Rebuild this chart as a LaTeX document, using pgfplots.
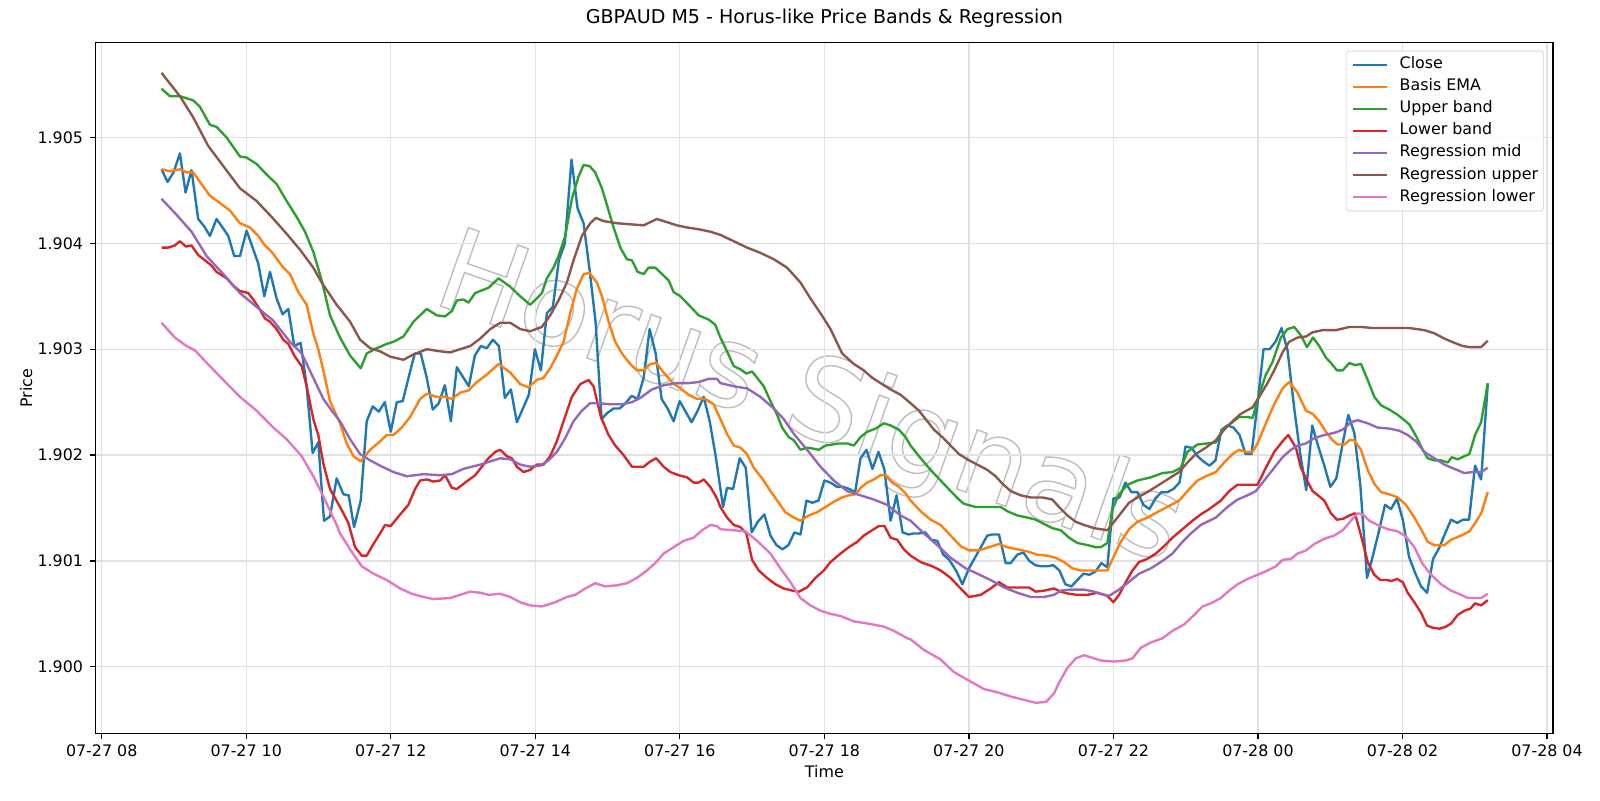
\documentclass[border=0pt]{standalone}
\usepackage{fontspec}
\setmainfont{DejaVu Sans}
\usepackage{pgfplots}
\pgfplotsset{compat=1.18}
\definecolor{c0}{HTML}{1F77B4}
\definecolor{c1}{HTML}{FF7F0E}
\definecolor{c2}{HTML}{2CA02C}
\definecolor{c3}{HTML}{D62728}
\definecolor{c4}{HTML}{9467BD}
\definecolor{c5}{HTML}{8C564B}
\definecolor{c6}{HTML}{E377C2}
\definecolor{gridc}{RGB}{225,225,225}
\definecolor{legc}{RGB}{204,204,204}
\definecolor{wmc}{RGB}{190,190,190}
\begin{document}
\begin{tikzpicture}
\path[use as bounding box] (-60.3pt,-42pt) rectangle (947.7pt,462pt);
\node[rotate=-19.5, text=wmc, font=\fontsize{72}{80}\selectfont] at (449.4pt,208pt) {\special{pdf:literal direct 1 Tr 0.9 w}Horus Signals\special{pdf:literal direct 0 Tr}};
\begin{axis}[
  at={(0,0)}, anchor=south west, scale only axis,
  width=918.1pt, height=435.1pt,
  xmin=7.917, xmax=28.083, ymin=1.899372, ymax=1.905895,
  axis line style={line width=0.8pt},
  tick style={line width=0.8pt, black},
  major tick length=3.5pt, tick align=outside, tick pos=left,
  grid=major, major grid style={line width=0.8pt, draw=gridc},
  xtick={8,10,12,14,16,18,20,22,24,26,28},
  xticklabels={07-27 08,07-27 10,07-27 12,07-27 14,07-27 16,07-27 18,07-27 20,07-27 22,07-28 00,07-28 02,07-28 04},
  ytick={1.900,1.901,1.902,1.903,1.904,1.905},
  scaled y ticks=false,
  /pgf/number format/assume math mode=true,
  yticklabel style={/pgf/number format/fixed, /pgf/number format/fixed zerofill, /pgf/number format/precision=3, xshift=-1pt},
  tick label style={font=\fontsize{10}{12}\selectfont},
  title={GBPAUD M5 - Horus-like Price Bands \& Regression},
  title style={at={(axis description cs:0.5,1.01471)}, anchor=base, font=\fontsize{12}{14}\selectfont},
  xlabel={Time},
  xlabel style={at={(axis description cs:0.5,-0.06366)}, anchor=base, font=\fontsize{10}{12}\selectfont},
  ylabel={Price},
  ylabel style={at={(axis description cs:-0.04357,0.5)}, anchor=base, font=\fontsize{10}{12}\selectfont},
  every axis plot/.append style={line width=1.5pt, line join=round},
  legend cell align=left,
  legend image code/.code={\draw[#1, line width=1.5pt] (0pt,0pt) -- (21.4pt,0pt);},
  legend style={at={(axis description cs:0.99379,0.98851)}, anchor=north east,
    draw=legc, rounded corners=2pt, fill=white, fill opacity=0.8, text opacity=1,
    font=\fontsize{10}{12}\selectfont, inner xsep=3.5pt, inner ysep=4.2pt, row sep=4.9pt,
    nodes={inner sep=0pt, text height=7pt, text depth=2pt},
    /tikz/every odd column/.append style={column sep=7.4pt}},
]
\addplot[c0] coordinates {(8.828,1.90470)(8.911,1.90458)(8.994,1.90467)(9.082,1.90485)(9.160,1.90448)(9.243,1.90469)(9.335,1.90423)(9.419,1.90416)(9.497,1.90407)(9.589,1.90423)(9.672,1.90415)(9.751,1.90407)(9.834,1.90388)(9.913,1.90388)(10.005,1.90412)(10.083,1.90397)(10.166,1.90381)(10.250,1.90350)(10.328,1.90373)(10.420,1.90348)(10.503,1.90333)(10.582,1.90338)(10.665,1.90303)(10.753,1.90306)(10.836,1.90265)(10.919,1.90202)(10.997,1.90212)(11.076,1.90138)(11.159,1.90142)(11.251,1.90178)(11.344,1.90163)(11.418,1.90162)(11.492,1.90132)(11.584,1.90157)(11.667,1.90232)(11.750,1.90246)(11.834,1.90241)(11.917,1.90250)(12.000,1.90222)(12.083,1.90250)(12.166,1.90251)(12.249,1.90274)(12.332,1.90296)(12.415,1.90296)(12.498,1.90273)(12.581,1.90243)(12.665,1.90249)(12.748,1.90266)(12.831,1.90232)(12.914,1.90283)(12.997,1.90274)(13.080,1.90265)(13.163,1.90294)(13.246,1.90303)(13.329,1.90301)(13.413,1.90309)(13.496,1.90303)(13.579,1.90254)(13.662,1.90262)(13.745,1.90231)(13.828,1.90244)(13.911,1.90257)(13.994,1.90300)(14.077,1.90280)(14.160,1.90334)(14.243,1.90340)(14.326,1.90384)(14.409,1.90400)(14.501,1.90479)(14.585,1.90433)(14.668,1.90419)(14.751,1.90375)(14.834,1.90326)(14.917,1.90234)(15.000,1.90240)(15.083,1.90244)(15.166,1.90244)(15.249,1.90249)(15.333,1.90256)(15.416,1.90253)(15.499,1.90273)(15.582,1.90319)(15.665,1.90296)(15.748,1.90253)(15.831,1.90244)(15.914,1.90232)(15.997,1.90251)(16.080,1.90241)(16.163,1.90231)(16.247,1.90242)(16.330,1.90255)(16.413,1.90232)(16.496,1.90199)(16.598,1.90151)(16.653,1.90169)(16.736,1.90168)(16.829,1.90197)(16.912,1.90188)(16.995,1.90127)(17.078,1.90137)(17.170,1.90144)(17.254,1.90124)(17.337,1.90115)(17.420,1.90111)(17.503,1.90115)(17.586,1.90127)(17.669,1.90125)(17.752,1.90157)(17.835,1.90155)(17.918,1.90157)(18.001,1.90176)(18.085,1.90174)(18.177,1.90170)(18.260,1.90170)(18.343,1.90168)(18.426,1.90165)(18.500,1.90197)(18.583,1.90205)(18.666,1.90187)(18.749,1.90203)(18.832,1.90186)(18.916,1.90138)(18.999,1.90162)(19.082,1.90127)(19.165,1.90125)(19.230,1.90126)(19.313,1.90126)(19.396,1.90127)(19.479,1.90120)(19.562,1.90119)(19.645,1.90106)(19.729,1.90101)(19.830,1.90090)(19.909,1.90078)(20.001,1.90093)(20.116,1.90107)(20.255,1.90124)(20.324,1.90125)(20.416,1.90125)(20.509,1.90098)(20.578,1.90098)(20.670,1.90106)(20.754,1.90108)(20.837,1.90100)(20.920,1.90096)(21.003,1.90095)(21.086,1.90095)(21.169,1.90096)(21.252,1.90091)(21.335,1.90078)(21.418,1.90076)(21.501,1.90082)(21.585,1.90088)(21.668,1.90087)(21.751,1.90090)(21.833,1.90098)(21.916,1.90094)(21.999,1.90159)(22.083,1.90160)(22.166,1.90174)(22.249,1.90165)(22.332,1.90165)(22.415,1.90153)(22.498,1.90149)(22.581,1.90159)(22.664,1.90165)(22.747,1.90165)(22.830,1.90168)(22.914,1.90174)(22.997,1.90208)(23.080,1.90207)(23.163,1.90199)(23.246,1.90194)(23.329,1.90190)(23.412,1.90195)(23.495,1.90224)(23.578,1.90228)(23.661,1.90226)(23.745,1.90219)(23.828,1.90201)(23.911,1.90201)(23.994,1.90249)(24.077,1.90300)(24.160,1.90300)(24.243,1.90307)(24.326,1.90320)(24.409,1.90299)(24.502,1.90244)(24.585,1.90201)(24.668,1.90167)(24.751,1.90228)(24.835,1.90208)(24.918,1.90190)(25.001,1.90170)(25.084,1.90178)(25.167,1.90209)(25.250,1.90238)(25.333,1.90221)(25.416,1.90172)(25.509,1.90084)(25.583,1.90103)(25.666,1.90126)(25.758,1.90153)(25.841,1.90149)(25.924,1.90159)(26.007,1.90138)(26.090,1.90104)(26.173,1.90089)(26.257,1.90076)(26.340,1.90070)(26.423,1.90102)(26.506,1.90112)(26.589,1.90126)(26.672,1.90139)(26.755,1.90136)(26.838,1.90139)(26.921,1.90139)(27.004,1.90190)(27.088,1.90177)(27.180,1.90267)};
\addlegendentry{Close}
\addplot[c1] coordinates {(8.828,1.90470)(8.943,1.90468)(9.082,1.90470)(9.174,1.90467)(9.266,1.90467)(9.359,1.90458)(9.497,1.90445)(9.636,1.90438)(9.774,1.90431)(9.913,1.90419)(10.051,1.90415)(10.166,1.90407)(10.259,1.90398)(10.351,1.90392)(10.513,1.90377)(10.605,1.90371)(10.720,1.90354)(10.836,1.90342)(10.928,1.90315)(10.997,1.90300)(11.067,1.90280)(11.159,1.90251)(11.298,1.90230)(11.390,1.90211)(11.483,1.90199)(11.584,1.90194)(11.714,1.90205)(11.852,1.90213)(11.944,1.90219)(12.037,1.90219)(12.152,1.90226)(12.268,1.90236)(12.406,1.90253)(12.498,1.90258)(12.637,1.90255)(12.752,1.90255)(12.845,1.90253)(12.960,1.90259)(13.075,1.90261)(13.191,1.90269)(13.329,1.90276)(13.491,1.90286)(13.653,1.90278)(13.791,1.90267)(13.906,1.90264)(14.021,1.90271)(14.114,1.90273)(14.206,1.90282)(14.298,1.90294)(14.391,1.90307)(14.483,1.90334)(14.575,1.90357)(14.668,1.90371)(14.751,1.90372)(14.852,1.90363)(14.922,1.90350)(15.014,1.90326)(15.106,1.90307)(15.199,1.90296)(15.314,1.90286)(15.406,1.90280)(15.499,1.90280)(15.591,1.90286)(15.674,1.90287)(15.776,1.90278)(15.891,1.90269)(16.007,1.90263)(16.122,1.90257)(16.237,1.90253)(16.353,1.90253)(16.468,1.90248)(16.561,1.90234)(16.653,1.90220)(16.746,1.90209)(16.838,1.90207)(16.930,1.90201)(17.023,1.90188)(17.138,1.90178)(17.254,1.90166)(17.369,1.90155)(17.461,1.90146)(17.577,1.90141)(17.669,1.90138)(17.784,1.90143)(17.900,1.90146)(18.015,1.90151)(18.131,1.90156)(18.246,1.90160)(18.338,1.90162)(18.431,1.90163)(18.500,1.90169)(18.592,1.90174)(18.685,1.90177)(18.777,1.90181)(18.846,1.90181)(18.939,1.90174)(19.031,1.90170)(19.123,1.90164)(19.193,1.90157)(19.332,1.90147)(19.470,1.90139)(19.609,1.90134)(19.747,1.90124)(19.886,1.90114)(20.001,1.90110)(20.139,1.90110)(20.278,1.90113)(20.416,1.90116)(20.532,1.90113)(20.670,1.90111)(20.809,1.90109)(20.947,1.90106)(21.086,1.90105)(21.201,1.90103)(21.317,1.90099)(21.432,1.90093)(21.548,1.90091)(21.686,1.90091)(21.801,1.90091)(21.916,1.90091)(22.009,1.90105)(22.101,1.90118)(22.216,1.90130)(22.332,1.90137)(22.470,1.90141)(22.632,1.90147)(22.770,1.90152)(22.909,1.90157)(23.024,1.90166)(23.163,1.90176)(23.278,1.90180)(23.417,1.90184)(23.532,1.90193)(23.648,1.90201)(23.740,1.90205)(23.832,1.90203)(23.925,1.90203)(23.994,1.90211)(24.109,1.90230)(24.225,1.90248)(24.340,1.90263)(24.432,1.90269)(24.548,1.90259)(24.664,1.90242)(24.756,1.90239)(24.848,1.90232)(24.941,1.90222)(25.033,1.90214)(25.102,1.90210)(25.195,1.90210)(25.264,1.90214)(25.333,1.90214)(25.426,1.90205)(25.518,1.90186)(25.610,1.90173)(25.703,1.90165)(25.818,1.90163)(25.933,1.90160)(26.049,1.90153)(26.164,1.90141)(26.257,1.90130)(26.349,1.90118)(26.441,1.90115)(26.580,1.90115)(26.672,1.90120)(26.811,1.90124)(26.926,1.90128)(27.018,1.90137)(27.088,1.90145)(27.180,1.90165)};
\addlegendentry{Basis EMA}
\addplot[c2] coordinates {(8.828,1.90546)(8.943,1.90539)(9.082,1.90539)(9.174,1.90537)(9.266,1.90535)(9.359,1.90529)(9.497,1.90512)(9.589,1.90510)(9.728,1.90500)(9.913,1.90482)(10.005,1.90481)(10.143,1.90475)(10.282,1.90465)(10.420,1.90456)(10.559,1.90440)(10.697,1.90425)(10.813,1.90411)(10.928,1.90392)(11.044,1.90365)(11.159,1.90332)(11.298,1.90311)(11.437,1.90294)(11.584,1.90282)(11.667,1.90296)(11.806,1.90301)(11.944,1.90305)(12.037,1.90307)(12.175,1.90312)(12.314,1.90326)(12.498,1.90338)(12.637,1.90332)(12.752,1.90331)(12.845,1.90336)(12.914,1.90346)(13.006,1.90347)(13.075,1.90344)(13.168,1.90353)(13.237,1.90355)(13.352,1.90358)(13.491,1.90367)(13.653,1.90359)(13.791,1.90350)(13.929,1.90342)(14.021,1.90348)(14.091,1.90353)(14.160,1.90367)(14.252,1.90377)(14.321,1.90388)(14.414,1.90407)(14.506,1.90442)(14.598,1.90463)(14.668,1.90474)(14.751,1.90473)(14.829,1.90467)(14.922,1.90452)(15.014,1.90431)(15.083,1.90415)(15.176,1.90396)(15.268,1.90385)(15.337,1.90384)(15.416,1.90373)(15.499,1.90371)(15.568,1.90377)(15.660,1.90377)(15.753,1.90371)(15.845,1.90365)(15.914,1.90354)(16.007,1.90350)(16.122,1.90342)(16.260,1.90332)(16.399,1.90328)(16.491,1.90323)(16.561,1.90311)(16.653,1.90298)(16.746,1.90284)(16.838,1.90281)(16.921,1.90277)(17.000,1.90279)(17.069,1.90273)(17.161,1.90265)(17.254,1.90251)(17.346,1.90238)(17.415,1.90226)(17.507,1.90217)(17.577,1.90214)(17.669,1.90205)(17.761,1.90207)(17.854,1.90206)(17.923,1.90205)(18.015,1.90209)(18.108,1.90210)(18.200,1.90211)(18.315,1.90211)(18.408,1.90209)(18.500,1.90217)(18.592,1.90222)(18.708,1.90225)(18.823,1.90230)(18.916,1.90228)(19.031,1.90224)(19.123,1.90217)(19.193,1.90209)(19.332,1.90197)(19.470,1.90186)(19.609,1.90176)(19.747,1.90166)(19.862,1.90158)(19.932,1.90154)(20.093,1.90151)(20.255,1.90151)(20.440,1.90151)(20.532,1.90147)(20.670,1.90143)(20.809,1.90141)(20.924,1.90139)(21.040,1.90135)(21.155,1.90131)(21.271,1.90129)(21.386,1.90122)(21.501,1.90117)(21.640,1.90115)(21.755,1.90113)(21.824,1.90113)(21.916,1.90117)(21.986,1.90149)(22.078,1.90163)(22.193,1.90172)(22.332,1.90176)(22.517,1.90179)(22.678,1.90183)(22.817,1.90184)(22.932,1.90188)(23.024,1.90203)(23.163,1.90210)(23.301,1.90211)(23.417,1.90212)(23.509,1.90224)(23.625,1.90230)(23.740,1.90236)(23.855,1.90236)(23.925,1.90235)(24.017,1.90257)(24.109,1.90276)(24.202,1.90288)(24.317,1.90311)(24.409,1.90319)(24.502,1.90321)(24.595,1.90313)(24.678,1.90302)(24.761,1.90311)(24.848,1.90303)(24.941,1.90292)(25.010,1.90287)(25.093,1.90280)(25.172,1.90280)(25.264,1.90287)(25.342,1.90285)(25.426,1.90286)(25.518,1.90271)(25.610,1.90255)(25.703,1.90247)(25.818,1.90243)(25.933,1.90238)(26.026,1.90233)(26.095,1.90229)(26.187,1.90218)(26.280,1.90205)(26.349,1.90197)(26.441,1.90195)(26.534,1.90195)(26.626,1.90193)(26.681,1.90198)(26.764,1.90196)(26.857,1.90199)(26.926,1.90201)(27.004,1.90219)(27.088,1.90231)(27.180,1.90268)};
\addlegendentry{Upper band}
\addplot[c3] coordinates {(8.828,1.90396)(8.920,1.90396)(9.012,1.90398)(9.082,1.90402)(9.165,1.90397)(9.243,1.90398)(9.335,1.90389)(9.428,1.90384)(9.520,1.90379)(9.589,1.90373)(9.728,1.90367)(9.820,1.90360)(9.913,1.90355)(10.028,1.90353)(10.097,1.90347)(10.166,1.90340)(10.259,1.90329)(10.328,1.90326)(10.420,1.90319)(10.513,1.90309)(10.582,1.90305)(10.674,1.90293)(10.767,1.90284)(10.836,1.90265)(10.928,1.90234)(10.997,1.90219)(11.067,1.90192)(11.159,1.90168)(11.298,1.90151)(11.413,1.90136)(11.506,1.90113)(11.598,1.90105)(11.667,1.90105)(11.760,1.90116)(11.852,1.90126)(11.921,1.90134)(12.000,1.90133)(12.106,1.90142)(12.244,1.90153)(12.337,1.90168)(12.406,1.90176)(12.498,1.90177)(12.591,1.90175)(12.683,1.90176)(12.752,1.90181)(12.845,1.90169)(12.914,1.90168)(13.029,1.90174)(13.168,1.90181)(13.260,1.90189)(13.352,1.90197)(13.445,1.90203)(13.514,1.90205)(13.606,1.90199)(13.676,1.90197)(13.745,1.90189)(13.837,1.90184)(13.929,1.90186)(14.021,1.90191)(14.114,1.90191)(14.206,1.90199)(14.298,1.90213)(14.391,1.90232)(14.506,1.90255)(14.622,1.90267)(14.737,1.90271)(14.806,1.90265)(14.908,1.90236)(15.014,1.90219)(15.106,1.90209)(15.222,1.90200)(15.337,1.90189)(15.499,1.90189)(15.591,1.90194)(15.674,1.90197)(15.776,1.90189)(15.868,1.90184)(15.983,1.90181)(16.099,1.90179)(16.191,1.90174)(16.260,1.90174)(16.330,1.90177)(16.422,1.90170)(16.514,1.90159)(16.561,1.90151)(16.653,1.90141)(16.746,1.90134)(16.838,1.90132)(16.921,1.90126)(17.000,1.90101)(17.092,1.90091)(17.207,1.90084)(17.323,1.90078)(17.438,1.90074)(17.554,1.90072)(17.646,1.90071)(17.761,1.90075)(17.877,1.90084)(17.992,1.90091)(18.085,1.90099)(18.223,1.90107)(18.338,1.90113)(18.454,1.90118)(18.546,1.90124)(18.638,1.90128)(18.754,1.90133)(18.832,1.90133)(18.916,1.90122)(19.008,1.90120)(19.100,1.90111)(19.193,1.90105)(19.332,1.90099)(19.493,1.90095)(19.609,1.90091)(19.747,1.90084)(19.886,1.90074)(20.001,1.90066)(20.163,1.90068)(20.301,1.90074)(20.416,1.90080)(20.532,1.90075)(20.670,1.90075)(20.832,1.90075)(20.924,1.90071)(21.040,1.90072)(21.178,1.90074)(21.271,1.90071)(21.386,1.90069)(21.501,1.90068)(21.640,1.90068)(21.778,1.90070)(21.916,1.90067)(21.999,1.90061)(22.078,1.90068)(22.170,1.90080)(22.263,1.90091)(22.355,1.90099)(22.470,1.90102)(22.586,1.90107)(22.701,1.90114)(22.817,1.90122)(22.955,1.90130)(23.094,1.90138)(23.209,1.90144)(23.325,1.90149)(23.486,1.90157)(23.602,1.90166)(23.717,1.90172)(23.832,1.90172)(23.994,1.90172)(24.109,1.90188)(24.225,1.90203)(24.340,1.90213)(24.419,1.90219)(24.525,1.90207)(24.595,1.90188)(24.678,1.90176)(24.756,1.90166)(24.848,1.90161)(24.918,1.90157)(25.010,1.90145)(25.093,1.90139)(25.185,1.90140)(25.264,1.90143)(25.342,1.90145)(25.426,1.90124)(25.518,1.90099)(25.610,1.90087)(25.693,1.90082)(25.795,1.90082)(25.841,1.90081)(25.924,1.90083)(26.003,1.90080)(26.072,1.90070)(26.164,1.90061)(26.257,1.90051)(26.340,1.90039)(26.418,1.90037)(26.511,1.90036)(26.603,1.90038)(26.672,1.90041)(26.764,1.90049)(26.857,1.90053)(26.940,1.90055)(27.004,1.90060)(27.088,1.90058)(27.180,1.90063)};
\addlegendentry{Lower band}
\addplot[c4] coordinates {(8.828,1.90442)(9.035,1.90427)(9.243,1.90411)(9.451,1.90388)(9.682,1.90371)(9.913,1.90353)(10.143,1.90340)(10.374,1.90327)(10.605,1.90307)(10.767,1.90296)(10.928,1.90273)(11.067,1.90253)(11.182,1.90242)(11.298,1.90232)(11.437,1.90215)(11.575,1.90201)(11.714,1.90195)(11.852,1.90190)(12.037,1.90184)(12.221,1.90180)(12.452,1.90182)(12.683,1.90181)(12.845,1.90182)(13.006,1.90187)(13.237,1.90191)(13.376,1.90194)(13.514,1.90197)(13.653,1.90196)(13.791,1.90191)(13.929,1.90189)(14.068,1.90190)(14.183,1.90195)(14.298,1.90203)(14.414,1.90216)(14.529,1.90232)(14.645,1.90242)(14.760,1.90249)(14.875,1.90249)(15.037,1.90248)(15.199,1.90248)(15.337,1.90250)(15.453,1.90254)(15.614,1.90262)(15.776,1.90266)(15.960,1.90268)(16.122,1.90268)(16.260,1.90269)(16.399,1.90272)(16.514,1.90272)(16.561,1.90268)(16.746,1.90265)(16.930,1.90263)(17.115,1.90255)(17.300,1.90244)(17.438,1.90234)(17.577,1.90220)(17.761,1.90205)(17.946,1.90189)(18.131,1.90176)(18.315,1.90166)(18.500,1.90162)(18.685,1.90158)(18.870,1.90153)(19.054,1.90143)(19.193,1.90138)(19.378,1.90126)(19.562,1.90115)(19.747,1.90103)(19.955,1.90093)(20.116,1.90088)(20.301,1.90082)(20.486,1.90075)(20.670,1.90070)(20.855,1.90066)(21.040,1.90066)(21.178,1.90068)(21.271,1.90072)(21.409,1.90073)(21.594,1.90073)(21.732,1.90071)(21.824,1.90069)(21.939,1.90067)(22.055,1.90072)(22.193,1.90079)(22.355,1.90088)(22.517,1.90093)(22.678,1.90100)(22.817,1.90107)(22.955,1.90118)(23.071,1.90126)(23.209,1.90134)(23.417,1.90141)(23.578,1.90151)(23.717,1.90158)(23.855,1.90162)(23.971,1.90166)(24.086,1.90176)(24.225,1.90188)(24.340,1.90198)(24.456,1.90205)(24.548,1.90209)(24.664,1.90211)(24.779,1.90216)(24.918,1.90219)(25.056,1.90221)(25.172,1.90224)(25.287,1.90231)(25.379,1.90233)(25.518,1.90230)(25.656,1.90226)(25.818,1.90225)(25.956,1.90223)(26.072,1.90219)(26.187,1.90213)(26.303,1.90203)(26.441,1.90197)(26.580,1.90191)(26.718,1.90187)(26.857,1.90183)(26.972,1.90184)(27.088,1.90184)(27.180,1.90188)};
\addlegendentry{Regression mid}
\addplot[c5] coordinates {(8.828,1.90561)(9.082,1.90539)(9.266,1.90519)(9.474,1.90492)(9.682,1.90473)(9.913,1.90452)(10.143,1.90440)(10.351,1.90425)(10.559,1.90409)(10.744,1.90394)(10.928,1.90377)(11.044,1.90363)(11.251,1.90342)(11.298,1.90338)(11.437,1.90326)(11.575,1.90309)(11.714,1.90301)(11.852,1.90298)(11.991,1.90293)(12.175,1.90290)(12.314,1.90295)(12.498,1.90300)(12.683,1.90298)(12.822,1.90297)(12.960,1.90300)(13.099,1.90303)(13.237,1.90310)(13.376,1.90319)(13.514,1.90325)(13.653,1.90325)(13.791,1.90319)(13.929,1.90317)(14.091,1.90321)(14.206,1.90332)(14.321,1.90346)(14.437,1.90363)(14.529,1.90384)(14.645,1.90407)(14.760,1.90419)(14.839,1.90424)(14.945,1.90421)(15.129,1.90419)(15.314,1.90418)(15.499,1.90417)(15.591,1.90420)(15.683,1.90423)(15.822,1.90420)(15.960,1.90417)(16.099,1.90415)(16.283,1.90413)(16.422,1.90411)(16.561,1.90408)(16.746,1.90402)(16.930,1.90396)(17.115,1.90391)(17.300,1.90385)(17.484,1.90377)(17.669,1.90363)(17.807,1.90348)(17.946,1.90334)(18.085,1.90319)(18.246,1.90296)(18.408,1.90286)(18.546,1.90280)(18.662,1.90273)(18.777,1.90268)(18.916,1.90262)(19.054,1.90257)(19.193,1.90249)(19.308,1.90242)(19.424,1.90232)(19.516,1.90224)(19.632,1.90217)(19.747,1.90209)(19.862,1.90201)(19.978,1.90196)(20.116,1.90191)(20.255,1.90186)(20.370,1.90180)(20.463,1.90173)(20.578,1.90166)(20.717,1.90162)(20.855,1.90160)(21.017,1.90160)(21.155,1.90158)(21.247,1.90151)(21.363,1.90143)(21.478,1.90137)(21.594,1.90134)(21.732,1.90131)(21.824,1.90130)(21.916,1.90129)(22.009,1.90137)(22.101,1.90145)(22.216,1.90155)(22.332,1.90160)(22.470,1.90165)(22.609,1.90171)(22.747,1.90177)(22.909,1.90184)(23.024,1.90193)(23.140,1.90201)(23.278,1.90207)(23.417,1.90214)(23.532,1.90224)(23.648,1.90232)(23.763,1.90239)(23.925,1.90245)(24.017,1.90255)(24.132,1.90268)(24.225,1.90280)(24.340,1.90297)(24.432,1.90307)(24.548,1.90311)(24.664,1.90312)(24.756,1.90316)(24.895,1.90318)(25.079,1.90318)(25.264,1.90321)(25.426,1.90321)(25.587,1.90320)(25.772,1.90320)(25.933,1.90320)(26.095,1.90320)(26.303,1.90318)(26.441,1.90315)(26.580,1.90310)(26.718,1.90306)(26.834,1.90303)(26.926,1.90302)(27.088,1.90302)(27.180,1.90308)};
\addlegendentry{Regression upper}
\addplot[c6] coordinates {(8.828,1.90325)(9.012,1.90311)(9.174,1.90303)(9.289,1.90299)(9.497,1.90284)(9.682,1.90271)(9.913,1.90255)(10.143,1.90242)(10.374,1.90226)(10.559,1.90215)(10.767,1.90199)(10.928,1.90180)(11.067,1.90161)(11.251,1.90134)(11.298,1.90126)(11.437,1.90111)(11.598,1.90095)(11.760,1.90088)(11.944,1.90082)(12.129,1.90074)(12.291,1.90069)(12.452,1.90066)(12.591,1.90064)(12.822,1.90065)(12.960,1.90068)(13.099,1.90071)(13.237,1.90070)(13.352,1.90068)(13.514,1.90069)(13.653,1.90066)(13.791,1.90061)(13.929,1.90058)(14.091,1.90057)(14.275,1.90061)(14.437,1.90066)(14.552,1.90068)(14.691,1.90074)(14.829,1.90079)(14.968,1.90076)(15.129,1.90077)(15.268,1.90079)(15.406,1.90084)(15.545,1.90091)(15.660,1.90098)(15.776,1.90107)(15.914,1.90113)(16.053,1.90119)(16.191,1.90122)(16.307,1.90129)(16.422,1.90134)(16.514,1.90133)(16.561,1.90130)(16.746,1.90129)(16.907,1.90128)(17.069,1.90119)(17.254,1.90107)(17.392,1.90093)(17.531,1.90080)(17.669,1.90065)(17.807,1.90058)(17.946,1.90053)(18.085,1.90050)(18.223,1.90048)(18.408,1.90043)(18.592,1.90041)(18.823,1.90038)(18.962,1.90034)(19.146,1.90027)(19.193,1.90026)(19.378,1.90016)(19.609,1.90007)(19.793,1.89995)(20.001,1.89987)(20.209,1.89979)(20.393,1.89976)(20.578,1.89972)(20.750,1.89969)(20.930,1.89966)(21.070,1.89967)(21.178,1.89975)(21.247,1.89985)(21.363,1.89999)(21.478,1.90008)(21.594,1.90011)(21.732,1.90008)(21.824,1.90006)(22.009,1.90005)(22.170,1.90006)(22.263,1.90008)(22.378,1.90018)(22.517,1.90023)(22.678,1.90027)(22.817,1.90034)(22.978,1.90040)(23.117,1.90049)(23.232,1.90057)(23.348,1.90060)(23.486,1.90065)(23.602,1.90072)(23.717,1.90078)(23.855,1.90083)(23.994,1.90087)(24.132,1.90091)(24.248,1.90095)(24.340,1.90101)(24.456,1.90102)(24.548,1.90107)(24.664,1.90110)(24.779,1.90116)(24.918,1.90121)(25.056,1.90124)(25.172,1.90129)(25.287,1.90138)(25.379,1.90145)(25.449,1.90144)(25.541,1.90138)(25.656,1.90134)(25.795,1.90130)(25.933,1.90128)(26.049,1.90123)(26.164,1.90113)(26.280,1.90097)(26.395,1.90087)(26.534,1.90078)(26.672,1.90072)(26.811,1.90068)(26.903,1.90065)(27.018,1.90065)(27.088,1.90065)(27.180,1.90069)};
\addlegendentry{Regression lower}
\end{axis}
\end{tikzpicture}
\end{document}
